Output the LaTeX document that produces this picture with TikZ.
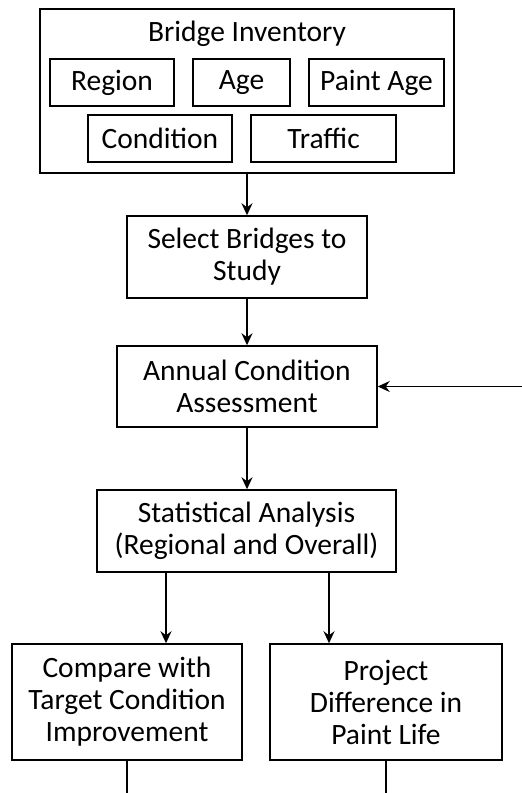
\documentclass[tikz,border=0pt]{standalone}
\usepackage{fontspec}
\setmainfont{Carlito}
\usetikzlibrary{positioning,arrows.meta}

\begin{document}
\begin{tikzpicture}[x=1pt,y=-1pt,
	box/.style={draw,line width=1.5pt,align=center,inner sep=0pt,font=\fontsize{29.5}{32}\selectfont},
	arr/.style={-{Stealth[length=12pt,width=11pt,inset=4pt]},line width=1.7pt},
	plain/.style={line width=1.7pt}]
		\useasboundingbox (0,0) rectangle (522,793);
		% inventory with its fields
		\node[box,minimum width=414,minimum height=164] (inv) at (247,91) {};
		\node[box,draw=none] (invtitle) at (247,34) {Bridge Inventory};
		\node[box,minimum width=124,minimum height=47] (region) at (112,82.5) {Region};
		\node[box,minimum width=97,minimum height=47] (age) at (241.5,82.5) {Age};
		\node[box,minimum width=135,minimum height=47] (paint) at (376.5,82.5) {Paint Age};
		\node[box,minimum width=144,minimum height=47] (cond) at (160,138.5) {Condition};
		\node[box,minimum width=145,minimum height=47] (traffic) at (323.5,138.5) {Traffic};
		% main steps
		\node[box,minimum width=240,minimum height=82] (select) at (247,257) {Select Bridges to\\Study};
		\node[box,minimum width=260,minimum height=81] (annual) at (247,386.5) {Annual Condition\\Assessment};
		\node[box,minimum width=299,minimum height=82] (stat) at (246.5,531) {Statistical Analysis\\(Regional and Overall)};
		\node[box,minimum width=230,minimum height=116] (compare) at (127,702) {Compare with\\Target Condition\\Improvement};
		\node[box,minimum width=232,minimum height=116] (project) at (386,702) {Project\\Difference in\\Paint Life};
		\coordinate (loop) at (522,386.5);
		\draw[arr](inv.south)--(select.north);
		\draw[arr](select.south)--(annual.north);
		\draw[arr](annual.south)--(annual.south|-stat.north);
		\draw[arr](loop)--(annual.east);
		\draw[arr]([xshift=-80.5pt]stat.south)--([xshift=-80.5pt]stat.south|-compare.north);
		\draw[arr]([xshift=82.5pt]stat.south)--([xshift=82.5pt]stat.south|-project.north);
		\draw[plain](compare.south)--++(0,33);
		\draw[plain](project.south)--++(0,33);
\end{tikzpicture}
\end{document}
